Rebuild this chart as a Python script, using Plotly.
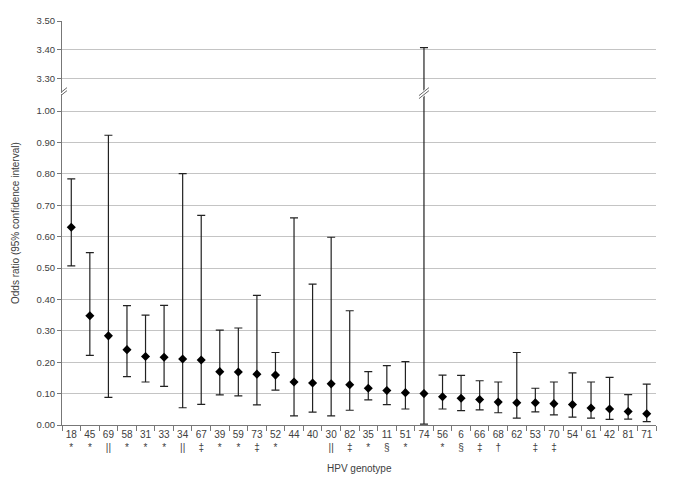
import plotly.graph_objects as go

# Datos
genotipos = ["18", "45", "69", "58", "31", "33", "34", "67", "39", "59", "73", "52",
             "44", "40", "30", "82", "35", "11", "51", "74", "56", "6", "66", "68",
             "62", "53", "70", "54", "61", "42", "81", "71"]
simbolos = ["*", "*", "||", "*", "*", "*", "||", "‡", "*", "*", "‡", "*",
            "", "", "||", "‡", "*", "§", "*", "", "*", "§", "‡", "†",
            "", "‡", "‡", "", "", "", "", ""]
odds_ratio = [0.630, 0.348, 0.284, 0.240, 0.218, 0.216, 0.210, 0.207, 0.170, 0.169, 0.162, 0.159,
              0.137, 0.134, 0.131, 0.128, 0.117, 0.110, 0.103, 0.100, 0.090, 0.085, 0.081, 0.073,
              0.071, 0.071, 0.068, 0.065, 0.054, 0.051, 0.043, 0.036]
ic_inferior = [0.507, 0.222, 0.088, 0.154, 0.137, 0.123, 0.055, 0.066, 0.096, 0.093, 0.064, 0.111,
               0.029, 0.041, 0.029, 0.047, 0.080, 0.065, 0.051, 0.003, 0.051, 0.046, 0.048, 0.039,
               0.022, 0.042, 0.032, 0.025, 0.022, 0.018, 0.019, 0.011]
ic_superior = [0.784, 0.549, 0.923, 0.380, 0.350, 0.381, 0.801, 0.668, 0.302, 0.309, 0.413, 0.231,
               0.660, 0.449, 0.598, 0.364, 0.170, 0.189, 0.202, 3.407, 0.159, 0.158, 0.141, 0.137,
               0.231, 0.117, 0.137, 0.166, 0.137, 0.152, 0.097, 0.130]

ticks_inferior = [0.0, 0.1, 0.2, 0.3, 0.4, 0.5, 0.6, 0.7, 0.8, 0.9, 1.0]
ticks_superior = [3.30, 3.40, 3.50]

etiquetas = [f"{g}<br>{s}" for g, s in zip(genotipos, simbolos)]
err_mas = [s - o for s, o in zip(ic_superior, odds_ratio)]
err_menos = [o - i for o, i in zip(odds_ratio, ic_inferior)]

corte = 0.8215  # posición (papel) del corte del eje

fig = go.Figure()

# Panel inferior (0 - 1.05)
fig.add_trace(go.Scatter(
    x=etiquetas, y=odds_ratio, mode="markers",
    marker=dict(symbol="diamond", size=7, color="black"),
    error_y=dict(type="data", array=err_mas, arrayminus=err_menos,
                 color="#222222", thickness=1.2, width=4),
    xaxis="x", yaxis="y", showlegend=False,
))

# Panel superior: sólo los intervalos que superan 1
idx = [i for i, s in enumerate(ic_superior) if s > 1]
fig.add_trace(go.Scatter(
    x=[etiquetas[i] for i in idx], y=[odds_ratio[i] for i in idx], mode="markers",
    marker=dict(symbol="diamond", size=7, color="black"),
    error_y=dict(type="data", array=[err_mas[i] for i in idx],
                 arrayminus=[err_menos[i] for i in idx],
                 color="#222222", thickness=1.2, width=4),
    xaxis="x", yaxis="y2", showlegend=False,
))

fuente = dict(family="Liberation Sans, Arial, sans-serif", size=10, color="#404040")

# la página añade 8 px de margen al body: se compensa aquí
fig.update_layout(
    width=685, height=480,
    margin=dict(l=54, r=37, t=7, b=63),
    plot_bgcolor="white", paper_bgcolor="white",
    font=fuente,
    xaxis=dict(
        type="category", categoryorder="array", categoryarray=etiquetas,
        range=[-0.5, len(etiquetas) - 0.5],
        showline=True, linecolor="#777777", linewidth=1,
        ticks="outside", tickson="boundaries", ticklen=5, tickcolor="#777777",
        showgrid=False, tickfont=dict(size=10), tickangle=0,
        anchor="y", automargin=False,
    ),
    yaxis=dict(
        domain=[0, 0.819], range=[0, 1.054],
        tickvals=ticks_inferior, tickformat=".2f",
        showline=True, linecolor="#777777", linewidth=1,
        ticks="outside", ticklen=4, tickcolor="#777777",
        showgrid=True, gridcolor="#c4c4c4", gridwidth=1,
        zeroline=False, tickfont=dict(size=9.5),
    ),
    yaxis2=dict(
        domain=[0.823, 1], range=[3.25, 3.50],
        tickvals=ticks_superior, tickformat=".2f",
        showline=True, linecolor="#777777", linewidth=1,
        ticks="outside", ticklen=4, tickcolor="#777777",
        showgrid=True, gridcolor="#c4c4c4", gridwidth=1,
        zeroline=False, tickfont=dict(size=9.5),
        anchor="x",
    ),
)

# Títulos de los ejes
fig.add_annotation(
    text="Odds ratio (95% confidence interval)", textangle=-90,
    xref="paper", yref="paper", x=0, y=0.5, xshift=-47, xanchor="center", yanchor="middle",
    showarrow=False, font=dict(size=10, color="#404040"),
)
fig.add_annotation(
    text="HPV genotype",
    xref="paper", yref="paper", x=0.5, y=0, yshift=-43, xanchor="center", yanchor="middle",
    showarrow=False, font=dict(size=10, color="#404040"),
)

# Marcas de corte (//) en el eje Y y en la barra de 74
anclas = [-0.5] + [etiquetas[i] for i in idx]
for a in anclas:
    fig.add_shape(type="line", xref="x", yref="paper", xsizemode="pixel", ysizemode="pixel",
                  xanchor=a, yanchor=corte, x0=-5, x1=5, y0=-4, y1=4,
                  line=dict(color="white", width=5), layer="above")
    for d in (-1.5, 1.5):
        fig.add_shape(type="line", xref="x", yref="paper", xsizemode="pixel", ysizemode="pixel",
                      xanchor=a, yanchor=corte, x0=-5, x1=5, y0=-4 + d, y1=4 + d,
                      line=dict(color="#666666", width=1), layer="above")

fig.write_html("out.html")
